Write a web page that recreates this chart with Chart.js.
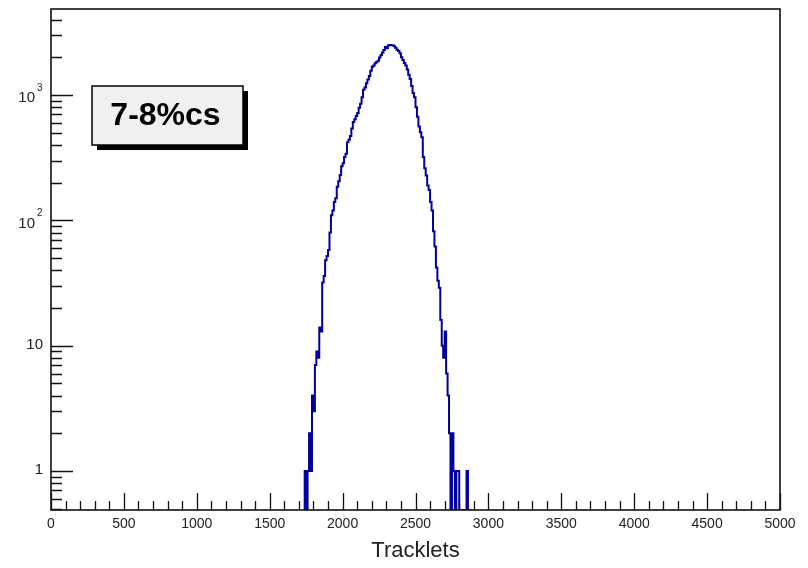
<!DOCTYPE html>
<html>
<head>
<meta charset="utf-8">
<script src="https://cdn.jsdelivr.net/npm/chart.js@4.4.1/dist/chart.umd.min.js"></script>
<style>
  html, body { margin: 0; padding: 0; background: #ffffff; }
  #wrap { width: 808px; height: 568px; }
</style>
</head>
<body>
<div id="wrap"><canvas id="c" width="808" height="568"></canvas></div>
<script>
// Tracklet multiplicity histogram, 7-8% centrality class
const firstBinEdge = 1740;   // low edge of first listed bin
const binWidth = 10;         // tracklets per bin
const counts = [
  0, 1, 0, 1, 2, 1, 4, 3, 7, 9,            // 1740-1830
  8, 14, 13, 32, 36, 48, 52, 58, 80, 110,  // 1840-1930
  120, 140, 150, 185, 205, 230, 270, 285, 320, 340,     // 1940-2030
  420, 440, 470, 540, 610, 640, 680, 720, 790, 850,     // 2040-2130
  960, 1100, 1150, 1240, 1330, 1420, 1560, 1680, 1720, 1790, // 2140-2230
  1830, 1880, 1990, 2090, 2180, 2290, 2420, 2360, 2480, 2510, // 2240-2330
  2490, 2500, 2450, 2380, 2300, 2240, 2150, 2000, 1900, 1800, // 2340-2430
  1720, 1600, 1450, 1340, 1180, 1040, 960, 800, 670, 560,     // 2440-2530
  505, 460, 320, 260, 228, 190, 175, 140, 120, 82,            // 2540-2630
  62, 42, 33, 29, 16, 10, 8, 13, 6, 4,                        // 2640-2730
  2, 0, 2, 1, 0, 1, 1, 0, 0, 0,                               // 2740-2830
  0, 0, 1, 0                                                  // 2840-2870
];

const xTickValues = [0, 500, 1000, 1500, 2000, 2500, 3000, 3500, 4000, 4500, 5000];
const yDecades = [1, 10, 100, 1000];
const yDecadeLabels = [["1", ""], ["10", ""], ["10", "2"], ["10", "3"]];
const boxLabel = "7-8%cs";
const xTitle = "Tracklets";

const xMin = 0, xMax = 5000;
const yMin = 0.489, yMax = 4855;

// step-histogram points: one point per bin low edge, plus the closing edge
const points = counts.map((c, i) => ({ x: firstBinEdge + i * binWidth, y: c > 0 ? c : yMin }));
points.push({ x: firstBinEdge + counts.length * binWidth, y: yMin });

const LABEL_FONT = '"Liberation Sans", Arial, sans-serif';

// ROOT-style frame, inward ticks, axis labels and the text box
const frameAndLabels = {
  id: 'frameAndLabels',
  afterDraw(chart) {
    const ctx = chart.ctx;
    const xs = chart.scales.x, ys = chart.scales.y;
    const a = chart.chartArea;
    ctx.save();

    // frame
    ctx.strokeStyle = '#111';
    ctx.lineWidth = 1.6;
    ctx.strokeRect(a.left, a.top, a.right - a.left, a.bottom - a.top);

    // x ticks: minor every 100, major every 500
    ctx.lineWidth = 1.3;
    ctx.beginPath();
    for (let v = xMin; v <= xMax; v += 100) {
      const px = Math.round(xs.getPixelForValue(v)) + 0.5;
      const len = (v % 500 === 0) ? 17 : 9;
      ctx.moveTo(px, a.bottom);
      ctx.lineTo(px, a.bottom - len);
    }
    ctx.stroke();

    // y ticks: decades long, sub-decades short
    ctx.beginPath();
    for (let d = 0.1; d <= 1000; d *= 10) {
      for (let m = 1; m <= 9; m++) {
        const v = d * m;
        if (v < yMin || v > yMax) continue;
        const py = Math.round(ys.getPixelForValue(v)) + 0.5;
        const len = (m === 1) ? 22 : 11;
        ctx.moveTo(a.left, py);
        ctx.lineTo(a.left + len, py);
      }
    }
    ctx.stroke();

    // y decade labels
    ctx.fillStyle = '#222';
    ctx.textBaseline = 'middle';
    yDecades.forEach((v, i) => {
      const py = ys.getPixelForValue(v);
      const [base, sup] = yDecadeLabels[i];
      if (sup) {
        ctx.font = '15px ' + LABEL_FONT;
        ctx.textAlign = 'right';
        ctx.fillText(base, 35, py + 3);
        ctx.font = '10px ' + LABEL_FONT;
        ctx.textAlign = 'left';
        ctx.fillText(sup, 37, py - 7);
      } else {
        ctx.font = '15px ' + LABEL_FONT;
        ctx.textAlign = 'right';
        ctx.fillText(base, 43, py - 1);
      }
    });

    // labelled box with drop shadow
    const bx = 92, by = 86, bw = 151, bh = 59, sh = 5;
    ctx.fillStyle = '#000';
    ctx.fillRect(bx + sh, by + bh, bw, sh);
    ctx.fillRect(bx + bw, by + sh, sh, bh);
    ctx.fillStyle = '#f0f0f0';
    ctx.fillRect(bx, by, bw, bh);
    ctx.strokeStyle = '#000';
    ctx.lineWidth = 1.5;
    ctx.strokeRect(bx, by, bw, bh);

    ctx.font = 'bold 32px ' + LABEL_FONT;
    ctx.fillStyle = '#000';
    ctx.textAlign = 'center';
    ctx.textBaseline = 'middle';
    ctx.fillText(boxLabel, bx + bw / 2 - 2, by + bh / 2 + 1);

    ctx.restore();
  }
};

new Chart(document.getElementById('c'), {
  type: 'line',
  data: {
    datasets: [{
      data: points,
      stepped: 'after',
      borderColor: '#00009c',
      borderWidth: 2,
      pointRadius: 0,
      fill: false,
      tension: 0
    }]
  },
  options: {
    responsive: false,
    animation: false,
    devicePixelRatio: 1,
    layout: { padding: { left: 51, right: 28, top: 9, bottom: 0 } },
    plugins: { legend: { display: false }, tooltip: { enabled: false } },
    scales: {
      x: {
        type: 'linear',
        min: xMin,
        max: xMax,
        afterBuildTicks(scale) { scale.ticks = xTickValues.map(v => ({ value: v })); },
        ticks: {
          autoSkip: false,
          maxRotation: 0,
          padding: 6,
          color: '#222',
          font: { family: LABEL_FONT, size: 14 },
          callback: v => String(v)
        },
        grid: { display: false, drawTicks: false },
        border: { display: false },
        title: {
          display: true,
          text: xTitle,
          color: '#222',
          font: { family: LABEL_FONT, size: 22 },
          padding: { top: 0, bottom: 4 }
        },
        afterFit(scale) { scale.height = 58; }
      },
      y: {
        type: 'logarithmic',
        min: yMin,
        max: yMax,
        ticks: { display: false },
        grid: { display: false, drawTicks: false },
        border: { display: false },
        afterFit(scale) { scale.width = 0; }
      }
    }
  },
  plugins: [frameAndLabels]
});
</script>
</body>
</html>
